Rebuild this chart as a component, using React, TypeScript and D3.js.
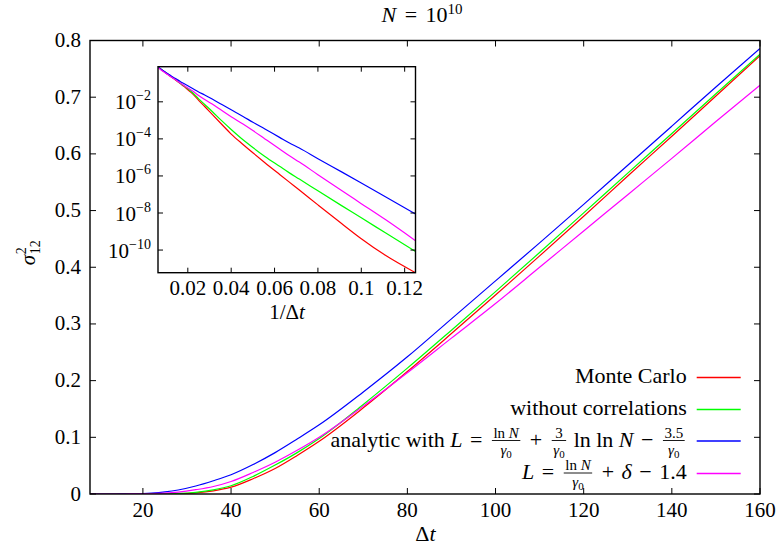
import React from 'react';
import * as d3 from 'd3';

// ---------------- data ----------------
const dt = [8, 9, 10, 11, 12.5, 14, 15, 16, 18, 20, 22, 25, 28, 32, 36, 40, 45, 50, 55, 60, 70, 80, 90, 100, 110, 120, 130, 140, 150, 160];

const monteCarlo = [6.0e-12, 5.2e-11, 4.1e-10, 2.7e-9, 2.75e-8, 1.74e-7, 4.8e-7, 1.17e-6, 5.2e-6, 1.78e-5, 5.0e-5, 1.82e-4, 6.0e-4, 2.1e-3, 5.6e-3, 0.012, 0.027, 0.045, 0.068, 0.093, 0.152, 0.216, 0.283, 0.351, 0.420, 0.490, 0.561, 0.631, 0.702, 0.773];

const withoutCorrelations = [8.3e-11, 8.5e-10, 5.5e-9, 2.5e-8, 1.58e-7, 6.8e-7, 1.51e-6, 3.2e-6, 1.12e-5, 3.4e-5, 8.9e-5, 3.2e-4, 9.3e-4, 3.0e-3, 7.2e-3, 0.0145, 0.031, 0.051, 0.073, 0.098, 0.158, 0.222, 0.289, 0.357, 0.426, 0.496, 0.566, 0.636, 0.706, 0.776];

const analyticLnLn = [8.9e-9, 7.6e-8, 4.2e-7, 1.66e-6, 8.5e-6, 3.2e-5, 6.2e-5, 1.17e-4, 3.4e-4, 7.9e-4, 1.62e-3, 3.7e-3, 7.1e-3, 0.0141, 0.0234, 0.034, 0.052, 0.073, 0.097, 0.122, 0.180, 0.242, 0.309, 0.376, 0.443, 0.511, 0.580, 0.649, 0.718, 0.786];

const analyticDelta = [3.2e-10, 4.4e-9, 3.2e-8, 1.62e-7, 1.17e-6, 5.6e-6, 1.26e-5, 2.75e-5, 1.0e-4, 2.8e-4, 6.3e-4, 1.58e-3, 3.4e-3, 7.6e-3, 0.0132, 0.022, 0.038, 0.056, 0.077, 0.100, 0.155, 0.214, 0.275, 0.336, 0.400, 0.464, 0.528, 0.592, 0.657, 0.721];

const seriesColors = ['#ff0000', '#00ff00', '#0000ff', '#ff00ff'];

const mainXTicks = [20, 40, 60, 80, 100, 120, 140, 160];
const mainYTicks = [0, 0.1, 0.2, 0.3, 0.4, 0.5, 0.6, 0.7, 0.8];
const insetXTicks = [0.02, 0.04, 0.06, 0.08, 0.1, 0.12];
const insetYExponents = [-2, -4, -6, -8, -10];

// ---------------- layout helpers ----------------
const FONT = 'Liberation Serif';
const FS = 21;
const LFS = 22;

let _ctx: CanvasRenderingContext2D | null = null;
function measure(s: string, size: number, italic?: boolean) {
  if (!_ctx) _ctx = document.createElement('canvas').getContext('2d');
  if (!_ctx) return s.length * size * 0.5;
  _ctx.font = `${italic ? 'italic ' : ''}${size}px "Liberation Serif"`;
  return _ctx.measureText(s).width;
}

type Seg = { t?: string; i?: boolean; s?: number; dy?: number; gap?: number; num?: Seg[]; den?: Seg[] };

const FRAC_FS = 15;
function segWidth(seg: Seg, base: number): number {
  if (seg.num && seg.den) {
    return Math.max(runWidth(seg.num, FRAC_FS), runWidth(seg.den, FRAC_FS)) + 7;
  }
  return (seg.gap ?? 0) + (seg.t ? measure(seg.t, seg.s ?? base, seg.i) : 0);
}
function runWidth(run: Seg[], base: number): number {
  return run.reduce((a, s) => a + segWidth(s, base), 0);
}
function renderRun(run: Seg[], x0: number, y: number, base: number, key: string): React.ReactNode[] {
  const out: React.ReactNode[] = [];
  let x = x0;
  run.forEach((seg, k) => {
    const w = segWidth(seg, base);
    if (seg.num && seg.den) {
      const nw = runWidth(seg.num, FRAC_FS);
      const dw = runWidth(seg.den, FRAC_FS);
      out.push(<line key={`${key}-b${k}`} x1={x + 2} x2={x + w - 2} y1={y - 6} y2={y - 6} stroke="#000" strokeWidth={0.9} />);
      out.push(...renderRun(seg.num, x + (w - nw) / 2, y - 9, FRAC_FS, `${key}-n${k}`));
      out.push(...renderRun(seg.den, x + (w - dw) / 2, y + 8, FRAC_FS, `${key}-d${k}`));
    } else if (seg.t) {
      out.push(
        <text key={`${key}-t${k}`} x={x + (seg.gap ?? 0)} y={y + (seg.dy ?? 0)} fontSize={seg.s ?? base}
          fontStyle={seg.i ? 'italic' : 'normal'} fontFamily={FONT} fill="#000" style={{ whiteSpace: 'pre' }}>
          {seg.t}
        </text>
      );
    }
    x += w;
  });
  return out;
}

const gamma0: Seg[] = [{ t: 'γ', i: true }, { t: '0', s: 11, dy: 3 }];
const sp: Seg = { gap: 2 };

const legendRows: Seg[][] = [
  [{ t: 'Monte Carlo' }],
  [{ t: 'without correlations' }],
  [
    { t: 'analytic with ' }, { t: 'L', i: true }, sp, { t: ' = ' }, sp,
    { num: [{ t: 'ln ' }, { t: 'N', i: true }], den: gamma0 },
    sp, { t: ' + ' }, sp,
    { num: [{ t: '3' }], den: gamma0 },
    { t: ' ln ln ' }, { t: 'N', i: true }, sp, { t: ' − ' }, sp,
    { num: [{ t: '3.5' }], den: gamma0 },
  ],
  [
    { t: 'L', i: true }, sp, { t: ' = ' }, sp,
    { num: [{ t: 'ln ' }, { t: 'N', i: true }], den: gamma0 },
    sp, { t: ' + ' }, sp, { t: 'δ', i: true }, sp, { t: ' − ' }, sp, { t: '1.4' },
  ],
];

// ---------------- component ----------------
export default function App() {
  const W = 783, H = 549;
  const L = 90, R = 760, T = 40.5, B = 494;
  const x = d3.scaleLinear().domain([8, 160]).range([L, R]);
  const y = d3.scaleLinear().domain([0, 0.8]).range([B, T]);

  const series = [monteCarlo, withoutCorrelations, analyticLnLn, analyticDelta];

  const mainLine = d3.line<[number, number]>()
    .x(d => x(d[0])).y(d => y(d[1])).curve(d3.curveMonotoneX);

  // inset
  const iL = 158, iR = 415.5, iT = 66.7, iB = 272.7;
  const xi = d3.scaleLinear().domain([1 / 160, 1 / 8]).range([iL, iR]);
  const allVals = series.flat();
  const yi = d3.scaleLog().domain([d3.min(allVals) as number, d3.max(allVals) as number]).range([iB, iT]);
  const insetLine = d3.line<[number, number]>()
    .x(d => xi(d[0])).y(d => yi(d[1])).curve(d3.curveMonotoneX);

  const fmt = (v: number) => (v === 0 ? '0' : d3.format('.1f')(v));
  const fmtI = (v: number) => String(+v.toFixed(2));

  const ticks: React.ReactNode[] = [];
  mainXTicks.forEach((t, k) => {
    ticks.push(<line key={`mxb${k}`} x1={x(t)} x2={x(t)} y1={B} y2={B - 6} stroke="#000" strokeWidth={1} />);
    ticks.push(<line key={`mxt${k}`} x1={x(t)} x2={x(t)} y1={T} y2={T + 6} stroke="#000" strokeWidth={1} />);
  });
  mainYTicks.forEach((t, k) => {
    ticks.push(<line key={`myl${k}`} x1={L} x2={L + 6} y1={y(t)} y2={y(t)} stroke="#000" strokeWidth={1} />);
    ticks.push(<line key={`myr${k}`} x1={R} x2={R - 6} y1={y(t)} y2={y(t)} stroke="#000" strokeWidth={1} />);
  });

  const iticks: React.ReactNode[] = [];
  insetXTicks.forEach((t, k) => {
    iticks.push(<line key={`ixb${k}`} x1={xi(t)} x2={xi(t)} y1={iB} y2={iB - 5} stroke="#000" strokeWidth={1} />);
    iticks.push(<line key={`ixt${k}`} x1={xi(t)} x2={xi(t)} y1={iT} y2={iT + 5} stroke="#000" strokeWidth={1} />);
  });
  insetYExponents.forEach((e, k) => {
    const v = Math.pow(10, e);
    iticks.push(<line key={`iyl${k}`} x1={iL} x2={iL + 5} y1={yi(v)} y2={yi(v)} stroke="#000" strokeWidth={1} />);
    iticks.push(<line key={`iyr${k}`} x1={iR} x2={iR - 5} y1={yi(v)} y2={yi(v)} stroke="#000" strokeWidth={1} />);
  });

  // title
  const titleRun: Seg[] = [{ t: 'N', i: true, s: 22 }, { gap: 3 }, { t: ' = ', s: 22 }, { gap: 3 }, { t: '10', s: 22 }, { t: '10', s: 15, dy: -8 }];
  const titleW = runWidth(titleRun, FS);

  // y label
  const sigW = measure('σ', FS, true);
  const subW = measure('12', 14);
  const ylabW = sigW + subW;

  // x labels
  const xlabRun: Seg[] = [{ t: 'Δ' }, { t: 't', i: true }];
  const xlabW = runWidth(xlabRun, FS);
  const ixlabRun: Seg[] = [{ t: '1/Δ' }, { t: 't', i: true }];
  const ixlabW = runWidth(ixlabRun, FS);

  const legendRight = 686.7;
  const legendBase = [383, 415, 446.5, 479];

  return (
    <svg width={W} height={H} viewBox={`0 0 ${W} ${H}`}
      style={{ position: 'absolute', left: 0, top: 0, background: '#fff', display: 'block' }}>
      <defs>
        <clipPath id="mainClip"><rect x={L} y={T} width={R - L} height={B - T} /></clipPath>
        <clipPath id="insetClip"><rect x={iL} y={iT} width={iR - iL} height={iB - iT} /></clipPath>
      </defs>
      <rect x={0} y={0} width={W} height={H} fill="#fff" />

      {/* main curves */}
      <g clipPath="url(#mainClip)">
        {series.map((vals, k) => (
          <path key={`mc${k}`} d={mainLine(dt.map((t, i) => [t, vals[i]] as [number, number])) || ''}
            fill="none" stroke={seriesColors[k]} strokeWidth={1.2} />
        ))}
      </g>

      {ticks}
      <rect x={L} y={T} width={R - L} height={B - T} fill="none" stroke="#000" strokeWidth={1.4} />

      {/* main tick labels */}
      {mainXTicks.map((t, k) => (
        <text key={`mxl${k}`} x={x(t)} y={517} textAnchor="middle" fontSize={FS} fontFamily={FONT}>{t}</text>
      ))}
      {mainYTicks.map((t, k) => (
        <text key={`myl${k}`} x={81} y={y(t) + 6.5} textAnchor="end" fontSize={FS} fontFamily={FONT}>{fmt(t)}</text>
      ))}

      {/* title and axis labels */}
      {renderRun(titleRun, 422 - titleW / 2, 22, FS, 'title')}
      {renderRun(xlabRun, 425 - xlabW / 2, 541, 22, 'xlab')}
      <g transform="translate(34.5, 253) rotate(-90)">
        <text x={-ylabW / 2} y={0} fontSize={FS} fontStyle="italic" fontFamily={FONT}>σ</text>
        <text x={-ylabW / 2 + sigW + 0.5} y={-9} fontSize={14} fontFamily={FONT}>2</text>
        <text x={-ylabW / 2 + sigW + 0.5} y={5} fontSize={14} fontFamily={FONT}>12</text>
      </g>

      {/* inset */}
      <rect x={iL} y={iT} width={iR - iL} height={iB - iT} fill="#fff" />
      <g clipPath="url(#insetClip)">
        {series.map((vals, k) => (
          <path key={`ic${k}`}
            d={insetLine(dt.map((t, i) => [1 / t, vals[i]] as [number, number]).reverse()) || ''}
            fill="none" stroke={seriesColors[k]} strokeWidth={1.2} />
        ))}
      </g>
      {iticks}
      <rect x={iL} y={iT} width={iR - iL} height={iB - iT} fill="none" stroke="#000" strokeWidth={1.4} />
      {insetXTicks.map((t, k) => (
        <text key={`ixl${k}`} x={xi(t)} y={295} textAnchor="middle" fontSize={FS} fontFamily={FONT}>{fmtI(t)}</text>
      ))}
      {insetYExponents.map((e, k) => {
        const yy = yi(Math.pow(10, e));
        const supW = measure(`−${-e}`, 14);
        const baseW = measure('10', FS);
        const right = 151;
        return (
          <g key={`iyl${k}`}>
            <text x={right - supW - baseW} y={yy + 7.5} fontSize={FS} fontFamily={FONT}>10</text>
            <text x={right - supW} y={yy - 1.5} fontSize={14} fontFamily={FONT}>{`−${-e}`}</text>
          </g>
        );
      })}
      {renderRun(ixlabRun, 287 - ixlabW / 2, 319, FS, 'ixlab')}

      {/* legend */}
      {legendRows.map((row, k) => {
        const w = runWidth(row, LFS);
        const yb = legendBase[k];
        return (
          <g key={`lg${k}`}>
            {renderRun(row, legendRight - w, yb, LFS, `lg${k}`)}
            <line x1={696.7} x2={740.7} y1={yb - 5.5} y2={yb - 5.5} stroke={seriesColors[k]} strokeWidth={1.3} />
          </g>
        );
      })}
    </svg>
  );
}
